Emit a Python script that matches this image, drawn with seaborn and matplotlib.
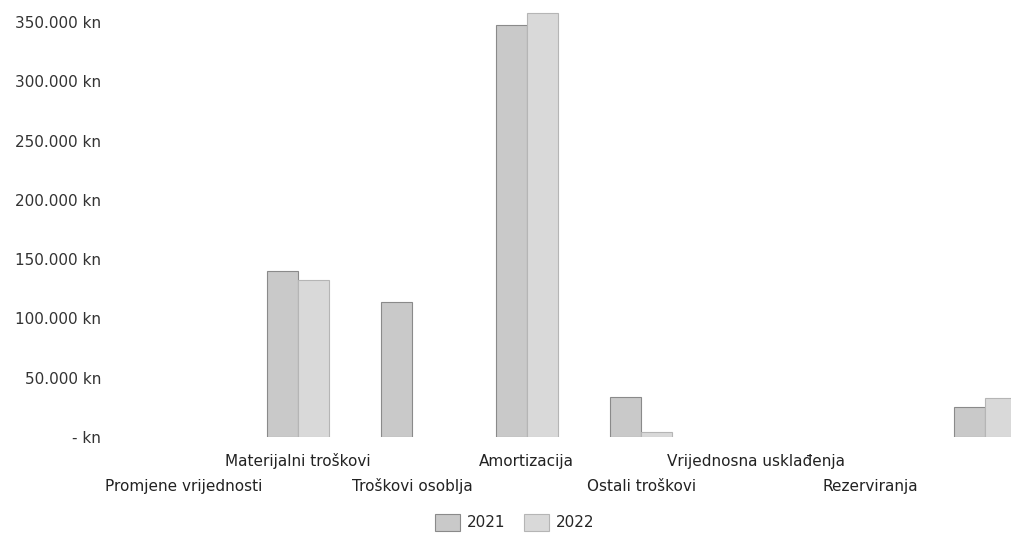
import numpy as np
import pandas as pd
import seaborn as sns
import matplotlib.pyplot as plt

# Chart data
categories = ["Promjene vrijednosti", "Materijalni troškovi", "Troškovi osoblja",
              "Amortizacija", "Ostali troškovi", "Vrijednosna usklađenja",
              "Rezerviranja", ""]
values_2021 = [0, 140000, 114000, 347500, 34000, 0, 0, 25500]
values_2022 = [0, 132000, 0, 358000, 4000, 0, 0, 33000]
years = ["2021", "2022"]
yticks = [0, 50000, 100000, 150000, 200000, 250000, 300000, 350000]
ytick_labels = ["- kn", "50.000 kn", "100.000 kn", "150.000 kn", "200.000 kn",
                "250.000 kn", "300.000 kn", "350.000 kn"]

df = pd.DataFrame({
    "kategorija": categories * 2,
    "godina": [years[0]] * len(categories) + [years[1]] * len(categories),
    "iznos": values_2021 + values_2022,
})

sns.set_style("white")
plt.rcParams["font.family"] = ["DejaVu Sans"]

fig = plt.figure(figsize=(10.12, 5.38), dpi=100)
# axes deliberately run past the right edge: the last group is cropped in the original
ax = fig.add_axes([126 / 1012, 101 / 538, 916 / 1012, 438.7 / 538])

sns.barplot(data=df, x="kategorija", y="iznos", hue="godina",
            palette=["#c9c9c9", "#d9d9d9"], width=0.54, ax=ax,
            linewidth=0.8, legend=False)

# edge colours; hide zero-height bars entirely
for bar_container, ec in zip(ax.containers, ["#8a8a8a", "#b5b5b5"]):
    for b in bar_container:
        b.set_edgecolor(ec)
        if b.get_height() == 0:
            b.set_visible(False)

ax.set_ylim(0, 370000)
ax.set_xlim(-0.5, len(categories) - 0.5)
ax.set_yticks(yticks)
ax.set_yticklabels(ytick_labels, fontsize=11, color="#333333")
ax.tick_params(axis="y", length=0, pad=18)
ax.set_xticks([])
ax.set_xlabel("")
ax.set_ylabel("")
for s in ax.spines.values():
    s.set_visible(False)

# staggered category labels
for i, lab in enumerate(categories):
    y = -0.055 if i % 2 == 1 else -0.112
    ax.text(i, y, lab, transform=ax.get_xaxis_transform(), ha="center",
            va="center", fontsize=11, color="#222222")

handles = [plt.Rectangle((0, 0), 1, 1, facecolor=c, edgecolor=e, linewidth=0.8)
           for c, e in zip(["#c9c9c9", "#d9d9d9"], ["#8a8a8a", "#b5b5b5"])]
fig.legend(handles, years, loc="lower center", bbox_to_anchor=(515 / 1012, -0.012),
           ncol=2, frameon=False, fontsize=11, handlelength=1.6, handleheight=1.3,
           columnspacing=1.2, handletextpad=0.5)

fig.savefig("out.png", dpi=100)
